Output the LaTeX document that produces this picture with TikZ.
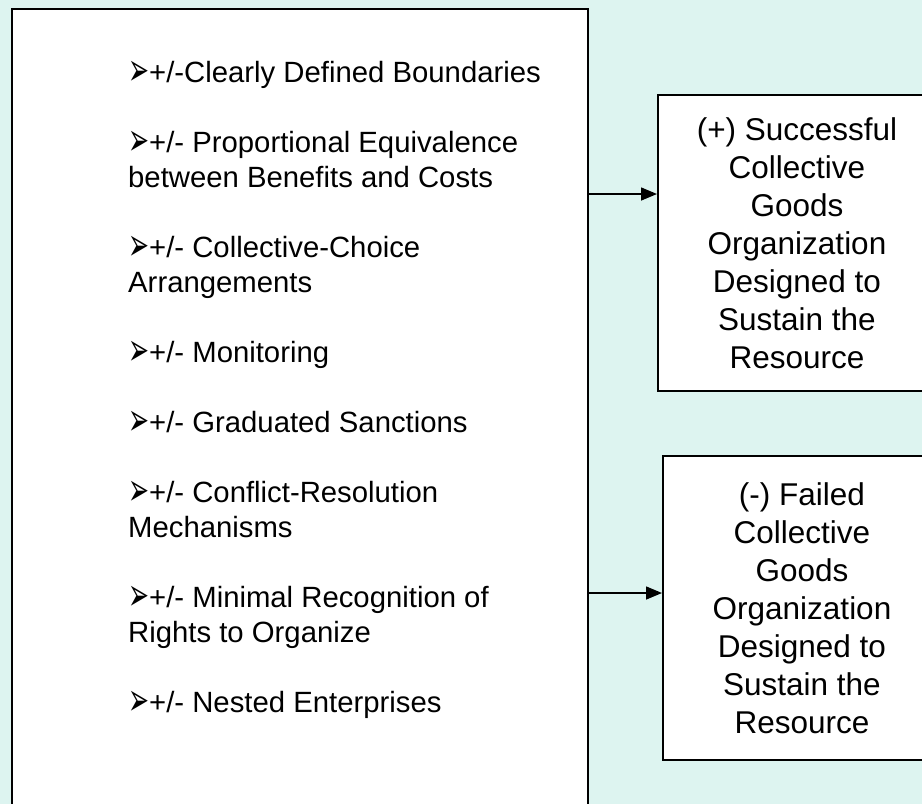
\documentclass[tikz,border=0pt]{standalone}
\usepackage{fontspec}
\setmainfont{Liberation Sans}
\newfontfamily\dingfont{DejaVu Sans}
\usetikzlibrary{arrows.meta,positioning}
\definecolor{paleaqua}{HTML}{DDF4F0}
\newcommand{\bul}{\raisebox{-3pt}{\scalebox{0.66}[1.2]{\dingfont\fontsize{38}{38}\selectfont ➢}}}
\tikzset{
  panel/.style={draw, line width=2pt, fill=white, inner sep=0pt},
  item/.style={anchor=base west, align=left, inner sep=0pt,
               font=\fontsize{29.3}{35}\selectfont},
  outcome/.style={panel, align=center, minimum width=278pt,
                  font=\fontsize{31.5}{38}\selectfont},
  arr/.style={-{Triangle[length=16pt,width=13pt]}, line width=1.5pt}
}

\begin{document}
\begin{tikzpicture}[x=1pt,y=-1pt]
    % page background
    \fill[paleaqua] (0,0) rectangle (922,804);
    \clip (0,0) rectangle (922,804);

    % design principles (base = last line)
    \node[panel, anchor=north west, minimum width=576pt, minimum height=820pt] (factors) at (11,7.5) {};
    \node[item] (bounds) at (128,82) {\bul+/-Clearly Defined Boundaries};
    \node[item] (equiv) at (128,187) {\bul+/- Proportional Equivalence\\between Benefits and Costs};
    \node[item] (choice) at (128,292) {\bul+/- Collective-Choice\\Arrangements};
    \node[item] (monitor) at (128,362) {\bul+/- Monitoring};
    \node[item] (sanct) at (128,432) {\bul+/- Graduated Sanctions};
    \node[item] (conflict) at (128,537) {\bul+/- Conflict-Resolution\\Mechanisms};
    \node[item] (rights) at (128,642) {\bul+/- Minimal Recognition of\\Rights to Organize};
    \node[item] (nested) at (128,712) {\bul+/- Nested Enterprises};

    % outcomes
    \node[outcome, minimum height=296pt] (success) at (797,243)
        {(+) Successful\\Collective\\Goods\\Organization\\Designed to\\Sustain the\\Resource};
    \node[outcome, minimum height=304pt] (failure) at (802,608)
        {(-) Failed\\Collective\\Goods\\Organization\\Designed to\\Sustain the\\Resource};

    \coordinate (out1) at (factors.east |- 0,194);
    \coordinate (out2) at (factors.east |- 0,593);
    \draw[arr] (out1) -- (out1 -| success.west);
    \draw[arr] (out2) -- (out2 -| failure.west);
\end{tikzpicture}
\end{document}
